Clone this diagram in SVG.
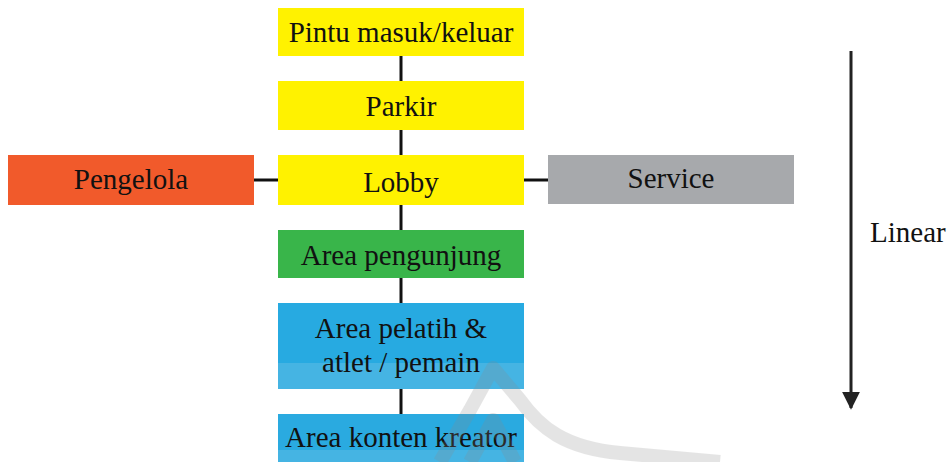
<svg xmlns="http://www.w3.org/2000/svg" width="950" height="462" viewBox="0 0 950 462">
  <style>
    text { font-family: 'Liberation Serif', 'Times New Roman', Times, serif; font-size: 29px; fill: #111; }
    .lbl { text-anchor: middle; }
    .link { stroke: #111; stroke-width: 3; fill: none; }
  </style>
  <defs>
    <marker id="head" viewBox="0 0 10 10" refX="9" refY="5" markerWidth="6" markerHeight="6" orient="auto" markerUnits="strokeWidth">
      <path d="M0,0 L10,5 L0,10 z" fill="#222"/>
    </marker>
  </defs>
  <rect width="950" height="462" fill="#ffffff"/>

  <!-- connectors -->
  <g id="connectors">
    <line class="link" x1="401" y1="56" x2="401" y2="81"/>
    <line class="link" x1="401" y1="130" x2="401" y2="155"/>
    <line class="link" x1="401" y1="205" x2="401" y2="230"/>
    <line class="link" x1="401" y1="278" x2="401" y2="303"/>
    <line class="link" x1="401" y1="389" x2="401" y2="414"/>
    <line class="link" x1="254" y1="180" x2="278" y2="180"/>
    <line class="link" x1="524" y1="180" x2="548" y2="180"/>
  </g>

  <g id="pintu">
    <rect x="278" y="8" width="246" height="48" fill="#fff200"/>
    <text class="lbl" x="401" y="42">Pintu masuk/keluar</text>
  </g>
  <g id="parkir">
    <rect x="278" y="81" width="246" height="49" fill="#fff200"/>
    <text class="lbl" x="401" y="116">Parkir</text>
  </g>
  <g id="lobby">
    <rect x="278" y="155" width="246" height="50" fill="#fff200"/>
    <text class="lbl" x="401" y="192">Lobby</text>
  </g>
  <g id="pengelola">
    <rect x="8" y="155" width="246" height="50" fill="#f15a2b"/>
    <text class="lbl" x="131" y="189">Pengelola</text>
  </g>
  <g id="service">
    <rect x="548" y="155" width="246" height="49" fill="#a7a9ac"/>
    <text class="lbl" x="671" y="188">Service</text>
  </g>
  <g id="pengunjung">
    <rect x="278" y="230" width="246" height="48" fill="#39b54a"/>
    <text class="lbl" x="401" y="265">Area pengunjung</text>
  </g>
  <g id="pelatih">
    <rect x="278" y="303" width="246" height="86" fill="#27aae1"/>
    <rect x="278" y="363" width="246" height="26" fill="#45b4e3"/>
    <text class="lbl" x="401" y="338">Area pelatih &amp;</text>
    <text class="lbl" x="401" y="372">atlet / pemain</text>
  </g>
  <g id="konten">
    <rect x="278" y="414" width="246" height="48" fill="#2aaae0"/>
    <rect x="278" y="450" width="246" height="12" fill="#45b4e3"/>
    <text class="lbl" x="401" y="447">Area konten kreator</text>
  </g>

  <!-- faint emblem printed over the lower part -->
  <g id="emblem" fill="none" stroke="#8a8a8a" stroke-width="14" stroke-linejoin="round" opacity="0.22">
    <path d="M440,462 L470,410 L493,368 L520,400 C540,428 565,448 620,453 L720,462"/>
    <path d="M470,462 L493,420 L515,462"/>
  </g>

  <!-- direction arrow -->
  <g id="linear">
    <line x1="851" y1="51" x2="851" y2="408" stroke="#222" stroke-width="3" marker-end="url(#head)"/>
    <text x="870" y="242">Linear</text>
  </g>
</svg>
